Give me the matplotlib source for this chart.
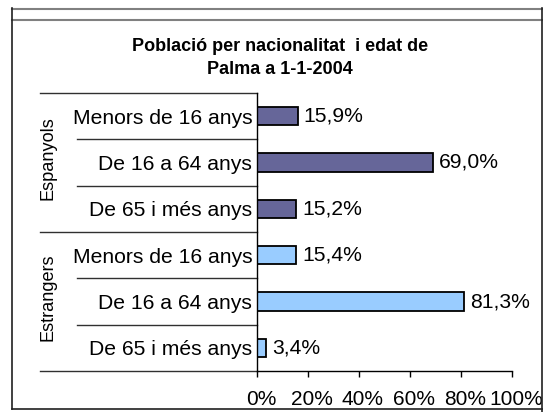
import matplotlib
matplotlib.use("Agg")
import matplotlib.pyplot as plt
from matplotlib.lines import Line2D
import matplotlib.transforms as mtransforms

plt.rcParams['font.family'] = ['Liberation Sans', 'DejaVu Sans']

title_lines = ["Població per nacionalitat  i edat de", "Palma a 1-1-2004"]
groups = ["Espanyols", "Estrangers"]
categories = ["Menors de 16 anys", "De 16 a 64 anys", "De 65 i més anys"]
espanyols = [15.9, 69.0, 15.2]
estrangers = [15.4, 81.3, 3.4]
xticks = [0, 20, 40, 60, 80, 100]
xtick_labels = ["0%", "20%", "40%", "60%", "80%", "100%"]
colors = ["#666699", "#99CCFF"]

W, H = 543, 412
fig = plt.figure(figsize=(W / 100, H / 100), dpi=100)

def fx(px):
    return px / W

def fy(py):
    return 1 - py / H

# frame
fig.add_artist(Line2D([fx(12), fx(542)], [fy(8.5), fy(8.5)], color="#808080", lw=1.5))
fig.add_artist(Line2D([fx(12), fx(542)], [fy(19.5), fy(19.5)], color="#808080", lw=1.5))
fig.add_artist(Line2D([fx(12), fx(12)], [fy(8), fy(409)], color="#202020", lw=1.2))
fig.add_artist(Line2D([fx(542), fx(542)], [fy(8), fy(412)], color="#202020", lw=1.2))
fig.add_artist(Line2D([fx(12), fx(543)], [fy(409), fy(409)], color="#202020", lw=1.2))

fig.text(fx(280), fy(51), title_lines[0], ha="center", va="baseline",
         fontsize=13, fontweight="bold")
fig.text(fx(280), fy(74), title_lines[1], ha="center", va="baseline",
         fontsize=13, fontweight="bold")

x0, x1, ytop, ybot = 257, 512, 93, 371
ax = fig.add_axes([fx(x0), fy(ybot), fx(x1) - fx(x0), (ybot - ytop) / H])

values = espanyols + estrangers
bar_colors = [colors[0]] * len(espanyols) + [colors[1]] * len(estrangers)
labels = categories + categories
ypos = list(range(len(values)))
ax.barh(ypos, values, height=0.39, color=bar_colors, edgecolor="black", linewidth=1.3)
for y, v in zip(ypos, values):
    ax.annotate(f"{v:.1f}%".replace(".", ","), (v, y), xytext=(4.5, 0),
                textcoords="offset points", va="center", ha="left", fontsize=15.2)

ax.set_xlim(0, 100)
ax.set_ylim(len(values) - 0.5, -0.5)
ax.set_xticks(xticks)
ax.set_xticklabels(xtick_labels, fontsize=15)
ax.set_yticks(ypos)
ax.set_yticklabels(labels, fontsize=15.2)
ax.tick_params(axis="y", length=0, pad=3.5)
ax.tick_params(axis="x", length=4, width=1, direction="out", pad=9.5, color="black")
shift = mtransforms.ScaledTranslation(4 / 100, 0, fig.dpi_scale_trans)
for lab in ax.get_xticklabels():
    lab.set_transform(lab.get_transform() + shift)
ax.spines["top"].set_visible(False)
ax.spines["right"].set_visible(False)
ax.spines["left"].set_linewidth(1)
ax.spines["bottom"].set_linewidth(1)

trans = mtransforms.blended_transform_factory(fig.transFigure, ax.transData)
n = len(categories)
for b in [-0.5, n - 0.5, 2 * n - 0.5]:
    ax.add_line(Line2D([fx(40), fx(x0)], [b, b], transform=trans, color="#303030",
                       lw=1, clip_on=False))
for b in [0.5, 1.5, n + 0.5, n + 1.5]:
    ax.add_line(Line2D([fx(77), fx(x0)], [b, b], transform=trans, color="#303030",
                       lw=1, clip_on=False))

for gi, g in enumerate(groups):
    yc = gi * n + (n - 1) / 2 - 0.09
    ax.text(fx(47.5), yc, g, transform=trans, rotation=90, ha="center", va="center",
            fontsize=13.1)

fig.savefig("out.png", dpi=100)
